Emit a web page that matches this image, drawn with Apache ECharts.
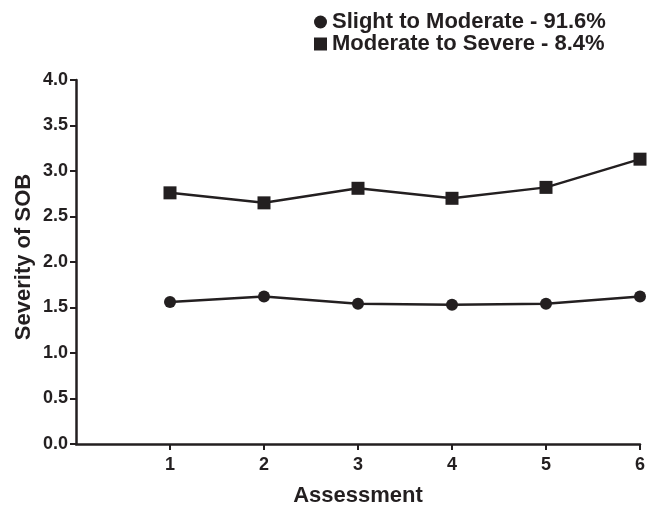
<!DOCTYPE html>
<html>
<head>
<meta charset="utf-8">
<script src="https://cdn.jsdelivr.net/npm/echarts@6/dist/echarts.min.js"></script>
<style>
  html, body { margin: 0; padding: 0; background: #fff; }
  #chart { width: 658px; height: 506px; }
</style>
</head>
<body>
<div id="chart"></div>
<script>
// assessment points
const assessments = [1, 2, 3, 4, 5, 6]
// severity of SOB per group
const slightToModerate = [1.56, 1.62, 1.54, 1.53, 1.54, 1.62]
const moderateToSevere = [2.76, 2.65, 2.81, 2.70, 2.82, 3.13]
const seriesNames = ['Slight to Moderate - 91.6%', 'Moderate to Severe - 8.4%']

const font = 'Liberation Sans, Arial, sans-serif'
const ink = '#231f20'
const chart = echarts.init(document.getElementById('chart'))

const toPairs = arr => arr.map((v, i) => [assessments[i], v])

chart.setOption({
  animation: false,
  legend: {
    orient: 'vertical',
    left: 309,
    top: 6,
    itemGap: 0,
    itemWidth: 13,
    itemHeight: 13,
    textStyle: { fontFamily: font, fontWeight: 'bold', fontSize: 22, color: ink, lineHeight: 22 },
    data: [
      { name: seriesNames[0], icon: 'circle' },
      { name: seriesNames[1], icon: 'rect' },
    ],
  },
  grid: { left: 76, right: 18, top: 80, bottom: 62, containLabel: false, outerBoundsMode: 'none' },
  xAxis: {
    type: 'value',
    min: 0,
    max: 6,
    interval: 1,
    name: 'Assessment',
    nameLocation: 'middle',
    nameGap: 41,
    nameMoveOverlap: false,
    nameTextStyle: { fontFamily: font, fontWeight: 'bold', fontSize: 22, color: ink },
    axisLine: { lineStyle: { color: ink, width: 2.5 } },
    axisTick: { show: true, length: 6, customValues: assessments, lineStyle: { color: ink, width: 2 } },
    axisLabel: {
      fontFamily: font, fontWeight: 'bold', fontSize: 18, color: ink, margin: 12,
      customValues: assessments,
      formatter: v => String(v),
    },
    splitLine: { show: false },
  },
  yAxis: {
    type: 'value',
    min: 0,
    max: 4,
    interval: 0.5,
    name: 'Severity of SOB',
    nameLocation: 'middle',
    nameGap: 41,
    nameMoveOverlap: false,
    nameTextStyle: { fontFamily: font, fontWeight: 'bold', fontSize: 22, color: ink, padding: [0, 0, 0, 10] },
    axisLine: { show: true, lineStyle: { color: ink, width: 2.5 } },
    axisTick: { show: true, length: 6, lineStyle: { color: ink, width: 2 } },
    axisLabel: {
      fontFamily: font, fontWeight: 'bold', fontSize: 18, color: ink, margin: 8,
      formatter: v => v.toFixed(1),
    },
    splitLine: { show: false },
  },
  series: [
    {
      name: seriesNames[0],
      type: 'line',
      data: toPairs(slightToModerate),
      symbol: 'circle',
      symbolSize: 12,
      lineStyle: { color: ink, width: 2.5 },
      itemStyle: { color: ink },
    },
    {
      name: seriesNames[1],
      type: 'line',
      data: toPairs(moderateToSevere),
      symbol: 'rect',
      symbolSize: 13,
      lineStyle: { color: ink, width: 2.5 },
      itemStyle: { color: ink },
    },
  ],
})
</script>
</body>
</html>
